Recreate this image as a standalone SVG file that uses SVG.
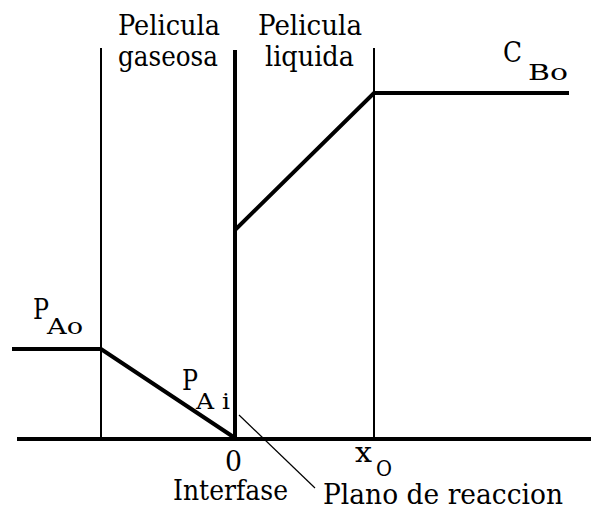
<svg xmlns="http://www.w3.org/2000/svg" width="591" height="510" viewBox="0 0 591 510">
<style>
.thin{stroke:#000;stroke-width:2;fill:none}
.thick{stroke:#000;stroke-width:4;fill:none;stroke-linejoin:miter}
.t{font-family:"DejaVu Serif","Liberation Serif",serif;font-size:28px;fill:#000}
.s{font-size:23px}
</style>
<rect width="591" height="510" fill="#fff"/>
<g id="connectors">
<line class="thin" x1="101" y1="48" x2="101" y2="438"/>
<line class="thin" x1="374" y1="48" x2="374" y2="438"/>
<line class="thick" x1="235" y1="50" x2="235" y2="439"/>
<line class="thick" x1="17" y1="439" x2="591" y2="439"/>
<polyline class="thick" points="12,349 101,349 235,438"/>
<polyline class="thick" points="235,230 374,93 569,93"/>
<line stroke="#000" stroke-width="1.2" x1="239" y1="415" x2="315" y2="488"/>
</g>
<g id="label-gas">
<text class="t" x="118" y="35" textLength="102" lengthAdjust="spacingAndGlyphs">Pelicula</text>
<text class="t" x="118" y="66" textLength="100" lengthAdjust="spacingAndGlyphs">gaseosa</text>
</g>
<g id="label-liq">
<text class="t" x="258" y="35" textLength="104" lengthAdjust="spacingAndGlyphs">Pelicula</text>
<text class="t" x="265" y="66" textLength="89" lengthAdjust="spacingAndGlyphs">liquida</text>
</g>
<g id="label-CBo">
<text class="t" x="503" y="62" textLength="19" lengthAdjust="spacingAndGlyphs">C</text>
<text class="t s" x="528" y="80" textLength="40" lengthAdjust="spacingAndGlyphs">Bo</text>
</g>
<g id="label-PAo">
<text class="t" x="33" y="319" textLength="16" lengthAdjust="spacingAndGlyphs">P</text>
<text class="t s" x="47" y="334" textLength="36" lengthAdjust="spacingAndGlyphs">Ao</text>
</g>
<g id="label-PAi">
<text class="t" x="182" y="390" textLength="16" lengthAdjust="spacingAndGlyphs">P</text>
<text class="t s" x="196" y="409" textLength="34" lengthAdjust="spacingAndGlyphs">A i</text>
</g>
<g id="label-0">
<text class="t" x="225" y="471" textLength="17" lengthAdjust="spacingAndGlyphs">0</text>
</g>
<g id="label-x0">
<text class="t" x="355" y="462" textLength="17" lengthAdjust="spacingAndGlyphs">x</text>
<text class="t s" x="376" y="476" textLength="16" lengthAdjust="spacingAndGlyphs">O</text>
</g>
<g id="label-interfase">
<text class="t" x="173" y="500" textLength="115" lengthAdjust="spacingAndGlyphs">Interfase</text>
</g>
<g id="label-plano">
<text class="t" x="323" y="504" textLength="240" lengthAdjust="spacingAndGlyphs">Plano de reaccion</text>
</g>
</svg>
